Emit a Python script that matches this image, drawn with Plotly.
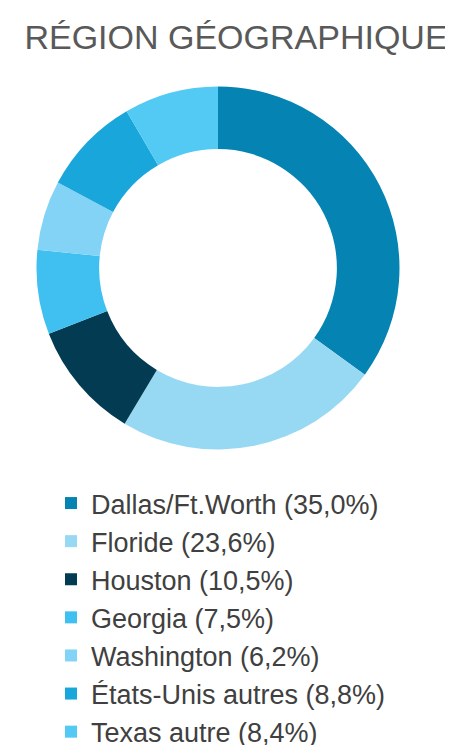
import plotly.graph_objects as go

regions = ["Dallas/Ft.Worth", "Floride", "Houston", "Georgia", "Washington",
           "États-Unis autres", "Texas autre"]
shares = [35.0, 23.6, 10.5, 7.5, 6.2, 8.8, 8.4]
colors = ["#0583B2", "#97D9F3", "#033B53", "#40C0F0", "#82D3F5", "#19A6DA", "#52CAF4"]

labels = [f"{r} ({str(v).replace('.', ',')}%)" for r, v in zip(regions, shares)]

# figure sits inside the page's default 8px body margin
W, H = 445, 737
cx, cy, R = 210, 260, 181.5

fig = go.Figure(go.Pie(
    labels=labels,
    values=shares,
    marker=dict(colors=colors, line=dict(width=0)),
    hole=0.655,
    sort=False,
    direction="clockwise",
    rotation=0,
    textinfo="none",
    domain=dict(x=[(cx - R) / W, (cx + R) / W],
                y=[(H - cy - R) / H, (H - cy + R) / H]),
))

fig.update_layout(
    width=W, height=H,
    margin=dict(l=0, r=0, t=0, b=0, autoexpand=False),
    paper_bgcolor="white",
    title=dict(text="RÉGION GÉOGRAPHIQUE", x=228 / W, xanchor="center",
               y=1 - 29 / H, yanchor="middle",
               font=dict(family="Liberation Sans, Arial", size=34, color="#595959")),
    legend=dict(x=43 / W, xanchor="left", y=1 - 471 / H, yanchor="top",
                font=dict(family="Liberation Sans, Arial", size=27, color="#404040"),
                itemwidth=30, tracegroupgap=0, traceorder="normal"),
    showlegend=True,
)

fig.write_html("out.html")
